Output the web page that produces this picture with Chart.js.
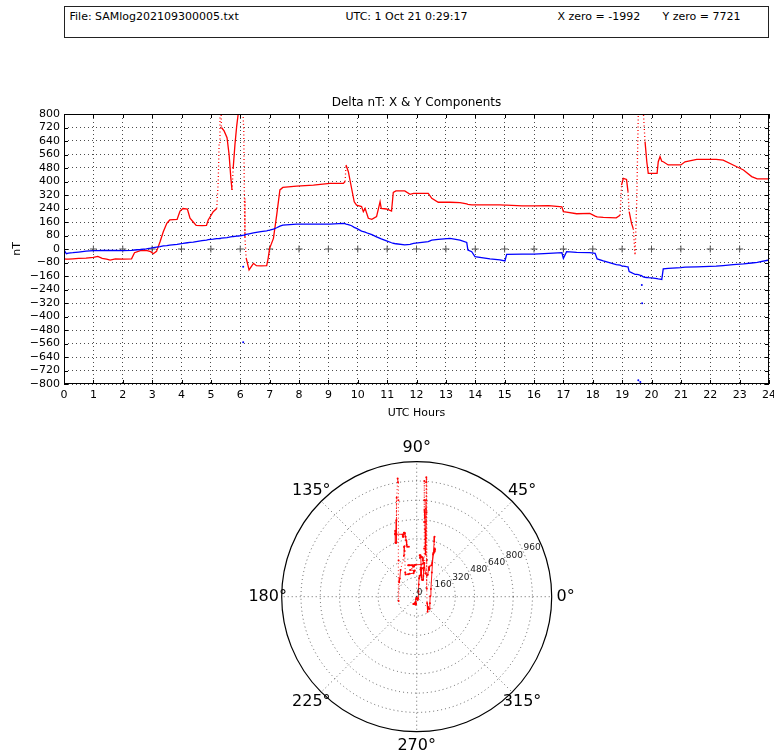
<!DOCTYPE html>
<html>
<head>
<meta charset="utf-8">
<script src="https://cdn.jsdelivr.net/npm/chart.js@4.4.1/dist/chart.umd.min.js"></script>
<style>
  html, body { margin: 0; padding: 0; background: #fff; }
  body { width: 774px; height: 755px; position: relative; overflow: hidden; font-family: "DejaVu Sans", sans-serif; }
  #info { position: absolute; left: 64px; top: 6px; width: 703px; height: 30px; border: 1.5px solid #222; font-size: 11px; color: #000; }
  #info span { position: absolute; top: 3px; white-space: nowrap; }
  #lineWrap { position: absolute; left: 0; top: 90px; width: 774px; height: 340px; }
  #polarWrap { position: absolute; left: 230px; top: 430px; width: 374px; height: 325px; }
</style>
</head>
<body>
<div id="info">
  <span style="left:4.5px">File: SAMlog202109300005.txt</span>
  <span style="left:280.5px">UTC: 1 Oct 21 0:29:17</span>
  <span style="left:492.5px">X zero = -1992</span>
  <span style="left:597.5px">Y zero = 7721</span>
</div>
<div id="lineWrap"><canvas id="lineChart"></canvas></div>
<div id="polarWrap"><canvas id="polarChart"></canvas></div>
<script>
// ---- magnetometer log: UTC hour, delta X (nT), delta Y (nT) ----
const hours = [
  0.00, 0.08, 0.15, 0.30, 0.50, 0.75, 1.00, 1.15, 1.30, 1.45, 1.57, 1.75, 2.00, 2.30, 2.40, 2.60, 2.80, 2.95,
  3.04, 3.15, 3.27, 3.38, 3.50, 3.60, 3.85, 3.95, 4.05, 4.20, 4.29, 4.40, 4.50, 4.70, 4.85, 4.91, 5.08, 5.20,
  5.25, 5.28, 5.31, 5.33, 5.36, 5.45, 5.55, 5.62, 5.68, 5.72, 5.76, 5.82, 5.88, 5.93, 5.98, 6.05, 6.12, 6.14,
  6.16, 6.20, 6.30, 6.45, 6.55, 6.70, 6.90, 6.95, 7.00, 7.13, 7.24, 7.35, 7.45, 7.92, 8.49, 9.05, 9.51, 9.57,
  9.60, 9.68, 9.79, 9.88, 9.96, 10.13, 10.19, 10.25, 10.36, 10.48, 10.64, 10.76, 10.80, 10.98, 11.15, 11.21,
  11.30, 11.60, 11.78, 11.90, 12.40, 12.52, 12.74, 13.14, 13.48, 13.71, 13.75, 13.88, 13.99, 14.50, 14.84,
  15.01, 15.07, 15.60, 16.00, 16.50, 16.95, 17.00, 17.11, 17.45, 17.90, 18.08, 18.15, 18.36, 18.80, 18.93,
  18.98, 19.04, 19.15, 19.20, 19.24, 19.32, 19.38, 19.44, 19.50, 19.55, 19.60, 19.66, 19.72, 19.78, 19.84,
  19.89, 20.00, 20.19, 20.23, 20.29, 20.35, 20.40, 20.57, 21.00, 21.14, 21.54, 22.20, 22.44, 22.78, 23.13,
  23.41, 23.60, 24.00
];
const deltaX = [
  -58, -60, -60, -58, -56, -54, -50, -44, -55, -60, -66, -58, -60, -58, -22, -10, -8, -16,
  -28, -14, 43, 102, 152, 172, 175, 225, 240, 237, 182, 160, 140, 138, 140, 172, 221, 240,
  400, 620, 800, 960, 720, 700, 660, 560, 420, 350, 480, 620, 730, 800, 950, 990, 700, 300,
  65, -53, -124, -85, -99, -100, -99, -55, 4, 63, 201, 350, 365, 372, 379, 389, 389, 400,
  498, 458, 360, 280, 260, 251, 221, 241, 182, 176, 192, 280, 241, 237, 225, 336,
  344, 344, 324, 330, 330, 300, 277, 277, 275, 267, 265, 262, 261, 261, 261,
  260, 260, 255, 255, 257, 250, 221, 218, 209, 211, 195, 190, 187, 185, 200,
  379, 419, 412, 340, 221, 152, 120, -36, 300, 800, 950, 980, 820, 636, 517,
  448, 448, 448, 517, 547, 520, 517, 498, 498, 517, 531, 531, 527, 498, 468,
  429, 415, 415
];
const deltaY = [
  -5, -28, -24, -22, -18, -13, -10, -10, -9, -9, -9, -9, -10, -8, -6, -3, 1, 5,
  8, 11, 14, 18, 20, 23, 28, 31, 33, 37, 39, 41, 44, 49, 53, 55, 58, 61,
  62, 62, 63, 63, 64, 66, 68, 70, 72, 73, 74, 75, 76, 77, 78, 80, 82, 83,
  84, 86, 90, 95, 98, 103, 108, 110, 112, 118, 126, 136, 141, 148, 148, 148, 152, 150,
  148, 145, 138, 128, 122, 106, 103, 100, 92, 85, 72, 63, 60, 48, 37, 34,
  31, 25, 28, 33, 44, 52, 57, 63, 53, 39, -6, -16, -45, -58, -65,
  -71, -32, -30, -30, -26, -22, -55, -16, -20, -22, -26, -59, -71, -92, -95,
  -100, -101, -105, -106, -134, -140, -145, -150, -150, -152, -155, -158, -166, -168, -169,
  -170, -171, -176, -177, -178, -180, -118, -115, -110, -107, -106, -102, -98, -92, -88,
  -83, -79, -65
];
// isolated Y-component spikes
const strayHours = [6.10, 6.10, 19.55, 19.62, 19.67, 19.68];
const strayY = [-105, -553, -778, -788, -213, -322];

// axis ticks and zero-line markers
const hourTicks = [0,1,2,3,4,5,6,7,8,9,10,11,12,13,14,15,16,17,18,19,20,21,22,23,24];
const nTTicks = [-800,-720,-640,-560,-480,-400,-320,-240,-160,-80,0,80,160,240,320,400,480,560,640,720,800];
const markerHours = [1,2,3,4,5,6,7,8,9,10,11,12,13,14,15,16,17,18,19,20,21,22,23];

// polar grid
const ringValues = [160, 320, 480, 640, 800, 960];
const ringLabels = [0, 160, 320, 480, 640, 800, 960];
const polarMax = 1120;
const spokeAngles = [0, 45, 90, 135, 180, 225, 270, 315];
const angleLabels = ['0°', '45°', '90°', '135°', '180°', '225°', '270°', '315°'];

Chart.defaults.font.family = "'DejaVu Sans', sans-serif";
Chart.defaults.color = '#000';
Chart.defaults.animation = false;

const minus = v => String(v).replace('-', '\u2212');
const fastChange = (i0, i1) =>
  Math.abs(deltaX[i1] - deltaX[i0]) / Math.max(hours[i1] - hours[i0], 1e-6) > 2500;
const dottedWhenFast = ctx => fastChange(ctx.p0DataIndex, ctx.p1DataIndex) ? [1, 2.5] : undefined;

// plot frame with inward tick marks on all four sides
const framePlugin = {
  id: 'frame',
  afterDatasetsDraw(chart) {
    const { ctx, chartArea: a, scales: { x, y } } = chart;
    ctx.save();
    ctx.strokeStyle = '#000';
    ctx.lineWidth = 1;
    ctx.setLineDash([]);
    ctx.beginPath();
    x.ticks.forEach(t => {
      const p = Math.round(x.getPixelForValue(t.value)) + 0.5;
      ctx.moveTo(p, a.bottom); ctx.lineTo(p, a.bottom - 4);
      ctx.moveTo(p, a.top); ctx.lineTo(p, a.top + 4);
    });
    y.ticks.forEach(t => {
      const p = Math.round(y.getPixelForValue(t.value)) + 0.5;
      ctx.moveTo(a.left, p); ctx.lineTo(a.left + 4, p);
      ctx.moveTo(a.right, p); ctx.lineTo(a.right - 4, p);
    });
    ctx.stroke();
    ctx.strokeRect(Math.round(a.left) + 0.5, Math.round(a.top) + 0.5,
      Math.round(a.right - a.left) - 1, Math.round(a.bottom - a.top) - 1);
    ctx.restore();
  }
};

new Chart(document.getElementById('lineChart'), {
  type: 'scatter',
  data: {
    datasets: [
      {
        label: 'Y',
        data: hours.map((h, i) => ({ x: h, y: deltaY[i] })),
        showLine: true, borderColor: '#0000ff', backgroundColor: '#0000ff',
        borderWidth: 1.3, pointRadius: 0
      },
      {
        label: 'X',
        data: hours.map((h, i) => ({ x: h, y: deltaX[i] })),
        showLine: true, borderColor: '#ff0000', backgroundColor: '#ff0000',
        borderWidth: 1.3, pointRadius: 0,
        segment: { borderDash: dottedWhenFast }
      },
      {
        label: 'Y spikes',
        data: strayHours.map((h, i) => ({ x: h, y: strayY[i] })),
        showLine: false, borderColor: '#0000ff', backgroundColor: '#0000ff',
        pointRadius: 1, borderWidth: 0
      },
      {
        label: 'zero',
        data: markerHours.map(h => ({ x: h, y: 0 })),
        showLine: false, pointStyle: 'cross', pointRadius: 3.5,
        borderColor: '#555', borderWidth: 1
      }
    ]
  },
  options: {
    responsive: true,
    maintainAspectRatio: false,
    layout: { padding: { left: 0, right: 5, top: 0, bottom: 0 } },
    plugins: {
      legend: { display: false },
      tooltip: { enabled: false },
      title: {
        display: true, text: 'Delta nT: X & Y Components', fullSize: false,
        font: { size: 12, weight: 'normal' }, color: '#000',
        padding: { top: 6, bottom: 3.6 }
      }
    },
    scales: {
      x: {
        type: 'linear', min: 0, max: 24,
        afterBuildTicks: s => { s.ticks = hourTicks.map(v => ({ value: v })); },
        afterFit: s => { s.height = 46; s.paddingLeft = 0; s.paddingRight = 0; },
        ticks: { font: { size: 11 }, padding: 5, maxRotation: 0, autoSkip: false, callback: minus },
        grid: { color: 'rgba(0,0,0,0.7)', lineWidth: 1, drawTicks: false },
        border: { display: false, dash: [1, 3] },
        title: { display: true, text: 'UTC Hours', font: { size: 11 }, padding: { top: 0, bottom: 10.4 } }
      },
      y: {
        type: 'linear', min: -800, max: 800,
        afterBuildTicks: s => { s.ticks = nTTicks.map(v => ({ value: v })); },
        afterFit: s => { s.width = 64; s.paddingTop = 0; s.paddingBottom = 0; },
        ticks: { font: { size: 11 }, padding: 4, autoSkip: false, callback: minus },
        grid: { color: 'rgba(0,0,0,0.7)', lineWidth: 1, drawTicks: false },
        border: { display: false, dash: [1, 3] },
        title: { display: true, text: 'nT', font: { size: 11 }, padding: { top: 10.4, bottom: 0 } }
      }
    }
  },
  plugins: [framePlugin]
});

// circular grid, spokes and labels for the horizontal-vector plot
const polarGrid = {
  id: 'polarGrid',
  beforeDatasetsDraw(chart) {
    const { ctx, scales: { x, y } } = chart;
    const cx = x.getPixelForValue(0), cy = y.getPixelForValue(0);
    const R = x.getPixelForValue(polarMax) - cx;
    ctx.save();
    ctx.strokeStyle = 'rgba(0,0,0,0.6)';
    ctx.lineWidth = 1;
    ctx.setLineDash([1, 3]);
    ringValues.forEach(v => {
      ctx.beginPath();
      ctx.arc(cx, cy, x.getPixelForValue(v) - cx, 0, Math.PI * 2);
      ctx.stroke();
    });
    spokeAngles.forEach(deg => {
      const t = deg * Math.PI / 180;
      ctx.beginPath();
      ctx.moveTo(cx, cy);
      ctx.lineTo(cx + R * Math.cos(t), cy - R * Math.sin(t));
      ctx.stroke();
    });
    ctx.restore();
  },
  afterDatasetsDraw(chart) {
    const { ctx, scales: { x, y } } = chart;
    const cx = x.getPixelForValue(0), cy = y.getPixelForValue(0);
    const R = x.getPixelForValue(polarMax) - cx;
    ctx.save();
    ctx.setLineDash([]);
    ctx.strokeStyle = '#000';
    ctx.lineWidth = 1.2;
    ctx.beginPath();
    ctx.arc(cx, cy, R, 0, Math.PI * 2);
    ctx.stroke();

    const a = 22.5 * Math.PI / 180;
    ctx.fillStyle = '#222';
    ctx.font = "9px 'DejaVu Sans'";
    ctx.textAlign = 'left';
    ctx.textBaseline = 'bottom';
    ringLabels.forEach(v => {
      const r = x.getPixelForValue(v) - cx;
      ctx.fillText(String(v), cx + r * Math.cos(a), cy - r * Math.sin(a));
    });

    ctx.fillStyle = '#000';
    ctx.font = "16px 'DejaVu Sans'";
    ctx.textAlign = 'center';
    ctx.textBaseline = 'middle';
    spokeAngles.forEach((deg, i) => {
      const t = deg * Math.PI / 180;
      ctx.fillText(angleLabels[i], cx + (R + 14) * Math.cos(t), cy - (R + 14) * Math.sin(t));
    });
    ctx.restore();
  }
};

new Chart(document.getElementById('polarChart'), {
  type: 'scatter',
  data: {
    datasets: [{
      label: 'XY',
      data: hours.map((h, i) => ({ x: deltaY[i], y: deltaX[i] })),
      showLine: true, borderColor: '#ff0000', backgroundColor: '#ff0000',
      borderWidth: 0.9, pointRadius: 1, pointBorderWidth: 0,
      segment: { borderDash: dottedWhenFast }
    }]
  },
  options: {
    responsive: true,
    maintainAspectRatio: false,
    layout: { padding: { left: 51.7, top: 31.7, right: 52.3, bottom: 23.3 } },
    plugins: { legend: { display: false }, tooltip: { enabled: false } },
    scales: {
      x: { type: 'linear', min: -polarMax, max: polarMax, display: false },
      y: { type: 'linear', min: -polarMax, max: polarMax, display: false }
    }
  },
  plugins: [polarGrid]
});
</script>
</body>
</html>
